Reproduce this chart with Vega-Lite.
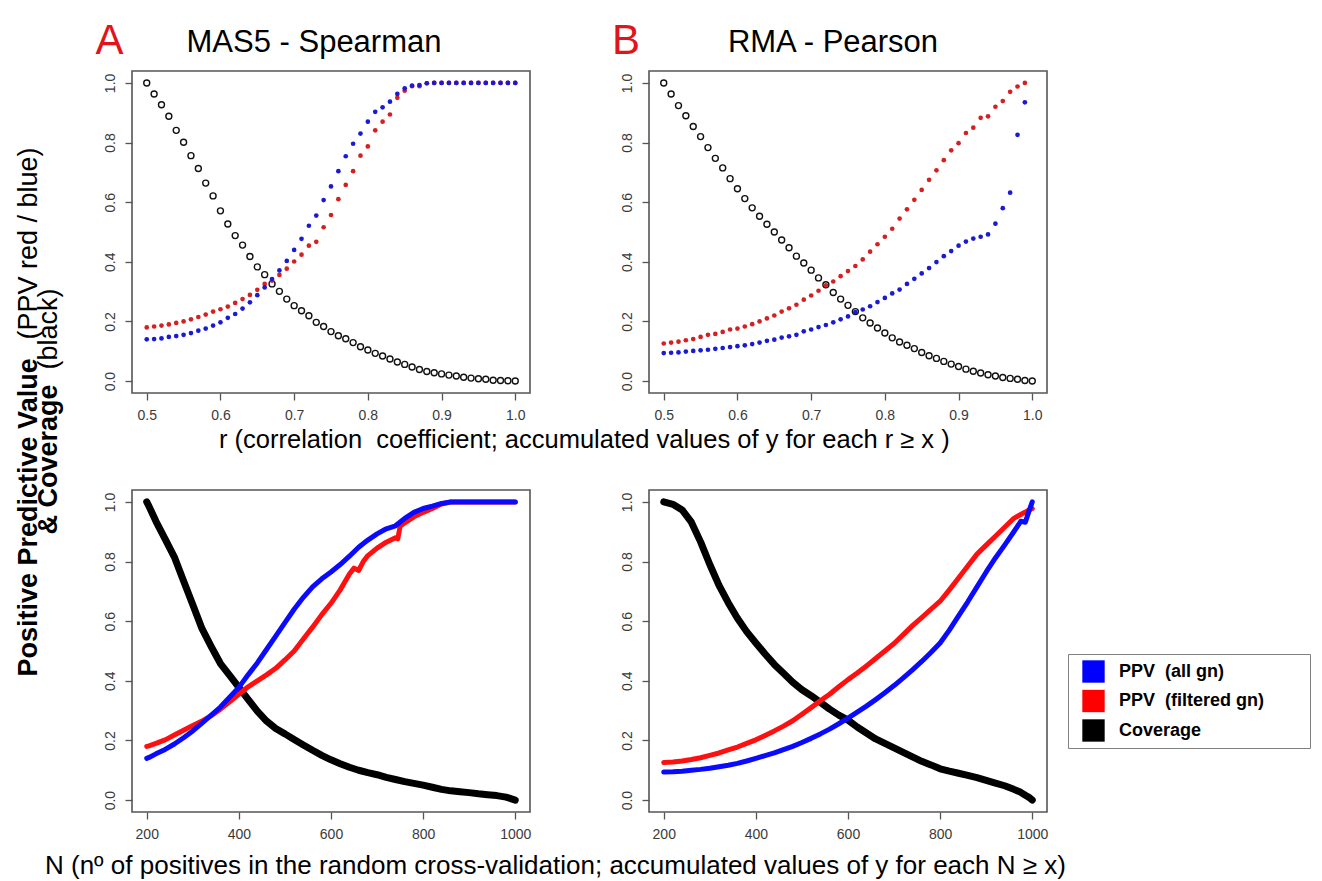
{
  "$schema": "https://vega.github.io/schema/vega-lite/v6.json",
  "background": "white",
  "padding": {"left": 13, "top": 18, "right": 0, "bottom": 2},
  "config": {
    "font": "Liberation Sans",
    "view": {"stroke": "#555555", "strokeWidth": 1.6},
    "axis": {"grid": false, "domain": false, "ticks": true, "tickColor": "#555555", "tickSize": 7, "tickWidth": 1.3, "labelColor": "#3a3a3a", "labelFontSize": 14, "labelFont": "Liberation Sans", "titleColor": "#000000", "titleFont": "Liberation Sans"},
    "axisY": {"labelAngle": 270, "labelAlign": "center", "labelBaseline": "bottom", "labelPadding": 8},
    "axisX": {"labelPadding": 8}
  },
  "datasets": {
    "tl": [
      {"r":0.50,"all":0.140,"filt":0.180,"cov":1.000},
      {"r":0.51,"all":0.141,"filt":0.183,"cov":0.963},
      {"r":0.52,"all":0.143,"filt":0.186,"cov":0.927},
      {"r":0.53,"all":0.148,"filt":0.190,"cov":0.888},
      {"r":0.54,"all":0.151,"filt":0.195,"cov":0.841},
      {"r":0.55,"all":0.155,"filt":0.200,"cov":0.801},
      {"r":0.56,"all":0.161,"filt":0.207,"cov":0.756},
      {"r":0.57,"all":0.169,"filt":0.215,"cov":0.713},
      {"r":0.58,"all":0.176,"filt":0.223,"cov":0.664},
      {"r":0.59,"all":0.186,"filt":0.233,"cov":0.621},
      {"r":0.60,"all":0.197,"filt":0.241,"cov":0.571},
      {"r":0.61,"all":0.212,"filt":0.250,"cov":0.527},
      {"r":0.62,"all":0.225,"filt":0.262,"cov":0.488},
      {"r":0.63,"all":0.243,"filt":0.275,"cov":0.456},
      {"r":0.64,"all":0.264,"filt":0.289,"cov":0.418},
      {"r":0.65,"all":0.288,"filt":0.306,"cov":0.383},
      {"r":0.66,"all":0.314,"filt":0.326,"cov":0.357},
      {"r":0.67,"all":0.342,"filt":0.337,"cov":0.326},
      {"r":0.68,"all":0.371,"filt":0.356,"cov":0.301},
      {"r":0.69,"all":0.403,"filt":0.377,"cov":0.275},
      {"r":0.70,"all":0.440,"filt":0.401,"cov":0.253},
      {"r":0.71,"all":0.477,"filt":0.424,"cov":0.236},
      {"r":0.72,"all":0.521,"filt":0.454,"cov":0.219},
      {"r":0.73,"all":0.555,"filt":0.467,"cov":0.197},
      {"r":0.74,"all":0.607,"filt":0.516,"cov":0.183},
      {"r":0.75,"all":0.653,"filt":0.557,"cov":0.166},
      {"r":0.76,"all":0.704,"filt":0.610,"cov":0.152},
      {"r":0.77,"all":0.754,"filt":0.658,"cov":0.142},
      {"r":0.78,"all":0.796,"filt":0.704,"cov":0.129},
      {"r":0.79,"all":0.830,"filt":0.756,"cov":0.115},
      {"r":0.80,"all":0.870,"filt":0.787,"cov":0.104},
      {"r":0.81,"all":0.903,"filt":0.841,"cov":0.093},
      {"r":0.82,"all":0.918,"filt":0.870,"cov":0.084},
      {"r":0.83,"all":0.937,"filt":0.894,"cov":0.074},
      {"r":0.84,"all":0.963,"filt":0.950,"cov":0.064},
      {"r":0.85,"all":0.982,"filt":0.974,"cov":0.056},
      {"r":0.86,"all":0.991,"filt":0.989,"cov":0.047},
      {"r":0.87,"all":0.993,"filt":0.989,"cov":0.039},
      {"r":0.88,"all":0.999,"filt":0.999,"cov":0.032},
      {"r":0.89,"all":1.000,"filt":1.000,"cov":0.028},
      {"r":0.90,"all":1.000,"filt":1.000,"cov":0.024},
      {"r":0.91,"all":1.000,"filt":1.000,"cov":0.020},
      {"r":0.92,"all":1.000,"filt":1.000,"cov":0.017},
      {"r":0.93,"all":1.000,"filt":1.000,"cov":0.013},
      {"r":0.94,"all":1.000,"filt":1.000,"cov":0.010},
      {"r":0.95,"all":1.000,"filt":1.000,"cov":0.008},
      {"r":0.96,"all":1.000,"filt":1.000,"cov":0.006},
      {"r":0.97,"all":1.000,"filt":1.000,"cov":0.003},
      {"r":0.98,"all":1.000,"filt":1.000,"cov":0.002},
      {"r":0.99,"all":1.000,"filt":1.000,"cov":0.001},
      {"r":1.00,"all":1.000,"filt":1.000,"cov":0.000}
    ],
    "tr": [
      {"r":0.50,"all":0.094,"filt":0.126,"cov":1.000},
      {"r":0.51,"all":0.095,"filt":0.129,"cov":0.963},
      {"r":0.52,"all":0.096,"filt":0.132,"cov":0.924},
      {"r":0.53,"all":0.099,"filt":0.137,"cov":0.890},
      {"r":0.54,"all":0.101,"filt":0.141,"cov":0.854},
      {"r":0.55,"all":0.103,"filt":0.148,"cov":0.820},
      {"r":0.56,"all":0.105,"filt":0.155,"cov":0.783},
      {"r":0.57,"all":0.108,"filt":0.158,"cov":0.747},
      {"r":0.58,"all":0.111,"filt":0.165,"cov":0.715},
      {"r":0.59,"all":0.114,"filt":0.173,"cov":0.679},
      {"r":0.60,"all":0.117,"filt":0.176,"cov":0.645},
      {"r":0.61,"all":0.120,"filt":0.183,"cov":0.612},
      {"r":0.62,"all":0.124,"filt":0.191,"cov":0.581},
      {"r":0.63,"all":0.129,"filt":0.200,"cov":0.553},
      {"r":0.64,"all":0.135,"filt":0.210,"cov":0.526},
      {"r":0.65,"all":0.139,"filt":0.220,"cov":0.500},
      {"r":0.66,"all":0.146,"filt":0.233,"cov":0.473},
      {"r":0.67,"all":0.150,"filt":0.244,"cov":0.447},
      {"r":0.68,"all":0.155,"filt":0.256,"cov":0.419},
      {"r":0.69,"all":0.167,"filt":0.273,"cov":0.396},
      {"r":0.70,"all":0.173,"filt":0.287,"cov":0.372},
      {"r":0.71,"all":0.181,"filt":0.303,"cov":0.346},
      {"r":0.72,"all":0.188,"filt":0.321,"cov":0.323},
      {"r":0.73,"all":0.197,"filt":0.334,"cov":0.297},
      {"r":0.74,"all":0.207,"filt":0.352,"cov":0.275},
      {"r":0.75,"all":0.217,"filt":0.369,"cov":0.254},
      {"r":0.76,"all":0.231,"filt":0.386,"cov":0.233},
      {"r":0.77,"all":0.240,"filt":0.408,"cov":0.212},
      {"r":0.78,"all":0.251,"filt":0.434,"cov":0.195},
      {"r":0.79,"all":0.265,"filt":0.459,"cov":0.178},
      {"r":0.80,"all":0.279,"filt":0.484,"cov":0.161},
      {"r":0.81,"all":0.294,"filt":0.511,"cov":0.145},
      {"r":0.82,"all":0.307,"filt":0.545,"cov":0.131},
      {"r":0.83,"all":0.326,"filt":0.576,"cov":0.120},
      {"r":0.84,"all":0.343,"filt":0.608,"cov":0.109},
      {"r":0.85,"all":0.361,"filt":0.641,"cov":0.096},
      {"r":0.86,"all":0.379,"filt":0.675,"cov":0.085},
      {"r":0.87,"all":0.399,"filt":0.707,"cov":0.076},
      {"r":0.88,"all":0.419,"filt":0.741,"cov":0.066},
      {"r":0.89,"all":0.436,"filt":0.774,"cov":0.057},
      {"r":0.90,"all":0.454,"filt":0.798,"cov":0.049},
      {"r":0.91,"all":0.468,"filt":0.832,"cov":0.040},
      {"r":0.92,"all":0.478,"filt":0.850,"cov":0.033},
      {"r":0.93,"all":0.484,"filt":0.883,"cov":0.027},
      {"r":0.94,"all":0.492,"filt":0.888,"cov":0.021},
      {"r":0.95,"all":0.528,"filt":0.920,"cov":0.017},
      {"r":0.96,"all":0.580,"filt":0.939,"cov":0.012},
      {"r":0.97,"all":0.632,"filt":0.970,"cov":0.009},
      {"r":0.98,"all":0.826,"filt":0.988,"cov":0.006},
      {"r":0.99,"all":0.935,"filt":1.000,"cov":0.002},
      {"r":1.00,"all":null,"filt":null,"cov":0.000}
    ],
    "bl": [
      {"n":200,"all":0.140,"filt":0.180,"cov":1.000},
      {"n":205,"all":0.143,"filt":0.182,"cov":0.985},
      {"n":220,"all":0.155,"filt":0.190,"cov":0.935},
      {"n":240,"all":0.170,"filt":0.202,"cov":0.875},
      {"n":260,"all":0.188,"filt":0.218,"cov":0.815},
      {"n":280,"all":0.209,"filt":0.234,"cov":0.735},
      {"n":300,"all":0.232,"filt":0.250,"cov":0.655},
      {"n":320,"all":0.258,"filt":0.265,"cov":0.575},
      {"n":340,"all":0.285,"filt":0.283,"cov":0.515},
      {"n":360,"all":0.312,"filt":0.305,"cov":0.458},
      {"n":380,"all":0.345,"filt":0.330,"cov":0.418},
      {"n":400,"all":0.378,"filt":0.355,"cov":0.378},
      {"n":420,"all":0.420,"filt":0.380,"cov":0.338},
      {"n":440,"all":0.460,"filt":0.400,"cov":0.298},
      {"n":460,"all":0.505,"filt":0.420,"cov":0.265},
      {"n":480,"all":0.550,"filt":0.442,"cov":0.240},
      {"n":500,"all":0.595,"filt":0.470,"cov":0.222},
      {"n":520,"all":0.640,"filt":0.500,"cov":0.203},
      {"n":540,"all":0.680,"filt":0.540,"cov":0.185},
      {"n":560,"all":0.715,"filt":0.580,"cov":0.167},
      {"n":580,"all":0.742,"filt":0.622,"cov":0.150},
      {"n":600,"all":0.765,"filt":0.660,"cov":0.135},
      {"n":620,"all":0.790,"filt":0.705,"cov":0.122},
      {"n":640,"all":0.818,"filt":0.758,"cov":0.110},
      {"n":650,"all":null,"filt":0.778,"cov":null},
      {"n":660,"all":0.848,"filt":0.770,"cov":0.100},
      {"n":670,"all":null,"filt":0.800,"cov":null},
      {"n":680,"all":0.872,"filt":0.820,"cov":0.092},
      {"n":700,"all":0.893,"filt":0.845,"cov":0.085},
      {"n":720,"all":0.910,"filt":0.865,"cov":0.076},
      {"n":740,"all":0.920,"filt":0.880,"cov":0.069},
      {"n":745,"all":null,"filt":0.876,"cov":null},
      {"n":750,"all":null,"filt":0.918,"cov":null},
      {"n":760,"all":0.945,"filt":0.930,"cov":0.062},
      {"n":780,"all":0.965,"filt":0.950,"cov":0.056},
      {"n":800,"all":0.978,"filt":0.965,"cov":0.050},
      {"n":820,"all":0.986,"filt":0.978,"cov":0.043},
      {"n":840,"all":0.995,"filt":0.993,"cov":0.036},
      {"n":860,"all":1.000,"filt":1.000,"cov":0.031},
      {"n":880,"all":1.000,"filt":1.000,"cov":0.028},
      {"n":900,"all":1.000,"filt":1.000,"cov":0.025},
      {"n":920,"all":1.000,"filt":1.000,"cov":0.021},
      {"n":940,"all":1.000,"filt":1.000,"cov":0.018},
      {"n":960,"all":1.000,"filt":1.000,"cov":0.015},
      {"n":980,"all":1.000,"filt":1.000,"cov":0.010},
      {"n":1000,"all":1.000,"filt":1.000,"cov":0.000}
    ],
    "br": [
      {"n":200,"all":0.094,"filt":0.126,"cov":1.000},
      {"n":220,"all":0.095,"filt":0.128,"cov":0.992},
      {"n":240,"all":0.097,"filt":0.131,"cov":0.973},
      {"n":260,"all":0.100,"filt":0.136,"cov":0.932},
      {"n":280,"all":0.103,"filt":0.142,"cov":0.866},
      {"n":300,"all":0.107,"filt":0.150,"cov":0.790},
      {"n":320,"all":0.112,"filt":0.158,"cov":0.720},
      {"n":340,"all":0.117,"filt":0.168,"cov":0.662},
      {"n":360,"all":0.123,"filt":0.178,"cov":0.610},
      {"n":380,"all":0.131,"filt":0.190,"cov":0.565},
      {"n":400,"all":0.140,"filt":0.202,"cov":0.527},
      {"n":420,"all":0.149,"filt":0.217,"cov":0.490},
      {"n":440,"all":0.158,"filt":0.232,"cov":0.455},
      {"n":460,"all":0.169,"filt":0.248,"cov":0.425},
      {"n":480,"all":0.180,"filt":0.266,"cov":0.395},
      {"n":500,"all":0.193,"filt":0.288,"cov":0.370},
      {"n":520,"all":0.207,"filt":0.310,"cov":0.350},
      {"n":540,"all":0.222,"filt":0.333,"cov":0.328},
      {"n":560,"all":0.238,"filt":0.355,"cov":0.305},
      {"n":580,"all":0.256,"filt":0.380,"cov":0.285},
      {"n":600,"all":0.275,"filt":0.404,"cov":0.268},
      {"n":620,"all":0.295,"filt":0.426,"cov":0.245},
      {"n":640,"all":0.315,"filt":0.450,"cov":0.225},
      {"n":660,"all":0.337,"filt":0.475,"cov":0.205},
      {"n":680,"all":0.360,"filt":0.500,"cov":0.190},
      {"n":700,"all":0.384,"filt":0.525,"cov":0.175},
      {"n":720,"all":0.410,"filt":0.555,"cov":0.160},
      {"n":740,"all":0.437,"filt":0.585,"cov":0.145},
      {"n":760,"all":0.465,"filt":0.612,"cov":0.130},
      {"n":780,"all":0.495,"filt":0.640,"cov":0.118},
      {"n":800,"all":0.527,"filt":0.667,"cov":0.105},
      {"n":820,"all":0.570,"filt":0.705,"cov":0.097},
      {"n":840,"all":0.618,"filt":0.745,"cov":0.090},
      {"n":860,"all":0.665,"filt":0.785,"cov":0.083},
      {"n":880,"all":0.715,"filt":0.825,"cov":0.075},
      {"n":900,"all":0.765,"filt":0.855,"cov":0.066},
      {"n":920,"all":0.812,"filt":0.885,"cov":0.057},
      {"n":940,"all":0.855,"filt":0.915,"cov":0.048},
      {"n":960,"all":0.900,"filt":0.945,"cov":0.036},
      {"n":975,"all":0.935,"filt":0.958,"cov":0.026},
      {"n":985,"all":0.932,"filt":0.966,"cov":0.016},
      {"n":992,"all":0.965,"filt":0.972,"cov":0.010},
      {"n":1000,"all":1.000,"filt":0.978,"cov":0.000}
    ]
  },
  "columns": 2,
  "bounds": "flush",
  "spacing": {"row": 97, "column": 119},
  "resolve": {"scale": {"color": "independent", "fill": "independent"}, "legend": {"color": "independent", "fill": "independent"}},
  "concat": [
    {
      "width": 398, "height": 322,
      "data": {"name": "tl"},
      "transform": [{"fold": ["cov", "filt", "all"], "as": ["key", "v"]}, {"filter": "isValid(datum.v)"}],
      "title": {"text": "MAS5 - Spearman", "frame": "group", "anchor": "middle", "dx": -17, "offset": -12, "baseline": "alphabetic", "fontSize": 31, "fontWeight": "normal", "color": "#000000", "font": "Liberation Sans"},
      "encoding": {
        "x": {"field": "r", "type": "quantitative", "scale": {"domain": [0.48, 1.02], "nice": false, "zero": false},
          "axis": {"values": [0.5, 0.6, 0.7, 0.8, 0.9, 1.0], "format": ".1f",
            "title": "r (correlation\u00a0 coefficient; accumulated values of y for each r \u2265 x )",
            "titleX": 86.5, "titleY": 54, "titleAlign": "left", "titleBaseline": "alphabetic", "titleAngle": 0, "titleFontSize": 25.5, "titleFontWeight": "normal"}},
        "y": {"field": "v", "type": "quantitative", "scale": {"domain": [-0.04, 1.04], "nice": false, "zero": false},
          "axis": {"values": [0, 0.2, 0.4, 0.6, 0.8, 1.0], "format": ".1f",
            "title": "Positive Predictive Value",
            "titleX": -95.5, "titleY": 605, "titleAngle": 270, "titleAlign": "left", "titleBaseline": "alphabetic", "titleFontSize": 27, "titleFontWeight": "bold"}}
      },
      "layer": [
        {"transform": [{"filter": "datum.key == 'cov'"}], "mark": {"type": "point", "shape": "circle", "filled": false, "size": 36, "strokeWidth": 1.4, "color": "#111111", "opacity": 1}, "encoding": {}},
        {"transform": [{"filter": "datum.key != 'cov'"}], "mark": {"type": "circle", "size": 22, "opacity": 1},
          "encoding": {"color": {"field": "key", "type": "nominal", "scale": {"domain": ["all", "filt"], "range": ["#1a1ad2", "#d42020"]}, "legend": null}}}
      ]
    },
    {
      "width": 398, "height": 322,
      "data": {"name": "tr"},
      "transform": [{"fold": ["cov", "filt", "all"], "as": ["key", "v"]}, {"filter": "isValid(datum.v)"}],
      "title": {"text": "RMA - Pearson", "frame": "group", "anchor": "middle", "dx": -15, "offset": -12, "baseline": "alphabetic", "fontSize": 31, "fontWeight": "normal", "color": "#000000", "font": "Liberation Sans"},
      "encoding": {
        "x": {"field": "r", "type": "quantitative", "scale": {"domain": [0.48, 1.02], "nice": false, "zero": false},
          "axis": {"values": [0.5, 0.6, 0.7, 0.8, 0.9, 1.0], "format": ".1f",
            "title": "(black)",
            "titleX": -592.5, "titleY": -24, "titleAlign": "left", "titleBaseline": "alphabetic", "titleAngle": 270, "titleFontSize": 27, "titleFontWeight": "normal"}},
        "y": {"field": "v", "type": "quantitative", "scale": {"domain": [-0.04, 1.04], "nice": false, "zero": false},
          "axis": {"values": [0, 0.2, 0.4, 0.6, 0.8, 1.0], "format": ".1f",
            "title": "(PPV red / blue)",
            "titleX": -612.5, "titleY": 268, "titleAngle": 270, "titleAlign": "left", "titleBaseline": "alphabetic", "titleFontSize": 27, "titleFontWeight": "normal"}}
      },
      "layer": [
        {"transform": [{"filter": "datum.key == 'cov'"}], "mark": {"type": "point", "shape": "circle", "filled": false, "size": 36, "strokeWidth": 1.4, "color": "#111111", "opacity": 1}, "encoding": {}},
        {"transform": [{"filter": "datum.key != 'cov'"}], "mark": {"type": "circle", "size": 22, "opacity": 1},
          "encoding": {"color": {"field": "key", "type": "nominal", "scale": {"domain": ["all", "filt"], "range": ["#1a1ad2", "#d42020"]}, "legend": null}}}
      ]
    },
    {
      "width": 398, "height": 322,
      "data": {"name": "bl"},
      "transform": [{"fold": ["cov", "filt", "all"], "as": ["key", "v"]}, {"filter": "isValid(datum.v)"}],
      "encoding": {
        "x": {"field": "n", "type": "quantitative", "scale": {"domain": [168, 1032], "nice": false, "zero": false},
          "axis": {"values": [200, 400, 600, 800, 1000], "format": "d",
            "title": "N (n\u00ba of positives in the random cross-validation; accumulated values of y for each N \u2265 x)",
            "titleX": -87.5, "titleY": 61, "titleAlign": "left", "titleBaseline": "alphabetic", "titleAngle": 0, "titleFontSize": 26, "titleFontWeight": "normal"}},
        "y": {"field": "v", "type": "quantitative", "scale": {"domain": [-0.04, 1.04], "nice": false, "zero": false},
          "axis": {"values": [0, 0.2, 0.4, 0.6, 0.8, 1.0], "format": ".1f",
            "title": "& Coverage",
            "titleX": -75.5, "titleY": 44, "titleAngle": 270, "titleAlign": "left", "titleBaseline": "alphabetic", "titleFontSize": 27, "titleFontWeight": "bold"}}
      },
      "layer": [
        {"transform": [{"filter": "datum.key == 'cov'"}], "mark": {"type": "line", "color": "#000000", "strokeWidth": 7, "strokeCap": "round", "strokeJoin": "round"}, "encoding": {}},
        {"transform": [{"filter": "datum.key != 'cov'"}], "mark": {"type": "line", "strokeWidth": 5, "strokeCap": "round", "strokeJoin": "round"},
          "encoding": {"color": {"field": "key", "type": "nominal", "scale": {"domain": ["all", "filt"], "range": ["#0a0aff", "#ff1010"]}, "legend": null}}}
      ]
    },
    {
      "width": 398, "height": 322,
      "data": {"name": "br"},
      "transform": [{"fold": ["cov", "filt", "all"], "as": ["key", "v"]}, {"filter": "isValid(datum.v)"}],
      "encoding": {
        "x": {"field": "n", "type": "quantitative", "scale": {"domain": [168, 1032], "nice": false, "zero": false},
          "axis": {"values": [200, 400, 600, 800, 1000], "format": "d",
            "title": "B",
            "titleX": -23.5, "titleY": -759, "titleAlign": "center", "titleBaseline": "alphabetic", "titleAngle": 0, "titleFontSize": 42, "titleFontWeight": "normal", "titleColor": "#e2141b"}},
        "y": {"field": "v", "type": "quantitative", "scale": {"domain": [-0.04, 1.04], "nice": false, "zero": false},
          "axis": {"values": [0, 0.2, 0.4, 0.6, 0.8, 1.0], "format": ".1f",
            "title": "A",
            "titleX": -540, "titleY": -437, "titleAlign": "center", "titleBaseline": "alphabetic", "titleAngle": 0, "titleFontSize": 42, "titleFontWeight": "normal", "titleColor": "#e2141b"}}
      },
      "layer": [
        {"transform": [{"filter": "datum.key == 'cov'"}], "mark": {"type": "line", "color": "#000000", "strokeWidth": 7, "strokeCap": "round", "strokeJoin": "round"}, "encoding": {}},
        {"transform": [{"filter": "datum.key != 'cov'"}], "mark": {"type": "line", "strokeWidth": 5, "strokeCap": "round", "strokeJoin": "round"},
          "encoding": {"color": {"field": "key", "type": "nominal", "scale": {"domain": ["all", "filt"], "range": ["#0a0aff", "#ff1010"]}, "legend": null}}},
        {"transform": [{"filter": "false"}], "mark": {"type": "point", "shape": "square", "filled": true, "opacity": 1},
          "encoding": {"fill": {"field": "key", "type": "nominal", "scale": {"domain": ["all", "filt", "cov"], "range": ["#0000ff", "#ff0000", "#000000"]},
            "legend": {"orient": "none", "legendX": 419, "legendY": 164, "title": null, "symbolType": "square", "symbolSize": 500, "symbolStrokeWidth": 0,
              "labelFontSize": 18, "labelFontWeight": "bold", "labelFont": "Liberation Sans", "labelColor": "#000000", "labelOffset": 14, "rowPadding": 6.5, "labelLimit": 400,
              "padding": 6, "strokeColor": "#808080", "fillColor": "#ffffff", "symbolOffset": 8,
              "labelExpr": "datum.label == 'all' ? 'PPV\u00a0 (all gn)' : datum.label == 'filt' ? 'PPV\u00a0 (filtered gn)\u2800\u2800\u2800' : 'Coverage'"}}}}
      ]
    }
  ]
}
